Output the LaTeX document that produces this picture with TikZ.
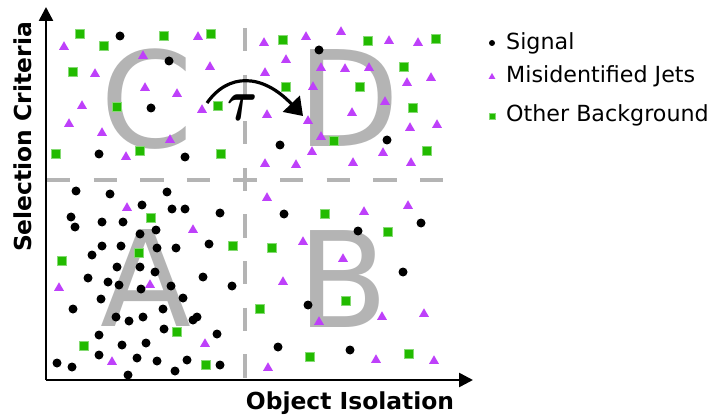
\documentclass[tikz,border=0pt]{standalone}
\usepackage{amsmath}
\usepackage{fontspec}
\setmainfont{DejaVu Sans}
\usepackage{tikz}
\usetikzlibrary{arrows.meta,shapes.geometric}

\definecolor{misid}{RGB}{190,64,250}
\definecolor{otherbg}{RGB}{34,187,0}
\definecolor{cutgray}{RGB}{180,180,180}

\tikzset{
  sig/.style={circle,fill=black,inner sep=0pt,minimum size=9pt},
  jet/.style={regular polygon,regular polygon sides=3,fill=misid,inner sep=0pt,minimum size=11.5pt},
  bkg/.style={rectangle,fill=otherbg,draw=otherbg!55,line width=0.8pt,inner sep=0pt,minimum size=8.5pt},
  region/.style={text=cutgray,font=\fontsize{133}{133}\selectfont,inner sep=0pt},
  cut/.style={cutgray,line width=4pt,dash pattern=on 23.3pt off 23.3pt},
  axis/.style={line width=2.5pt,-{Triangle[length=14pt,width=14pt]}},
  axlabel/.style={font=\fontsize{23.4}{24}\selectfont\bfseries,inner sep=0pt},
  keytext/.style={font=\fontsize{22.2}{24}\selectfont,anchor=base west,inner sep=0pt}
}

\begin{document}
\begin{tikzpicture}[x=1pt,y=-1pt]
\useasboundingbox (0,0) rectangle (710,417);

  \coordinate (O)     at (46,380);
  \coordinate (Ytop)  at (46,7);
  \coordinate (Xend)  at (473,380);
  \coordinate (VcutA) at (245,28);
  \coordinate (VcutB) at (245,378);
  \coordinate (HcutA) at (47,180);
  \coordinate (HcutB) at (445,180);

  \draw[cut] (VcutA) -- (VcutB);
  \draw[cut] (HcutA) -- (HcutB);

  \node[region] (C) at (147,99.5) {C};
  \node[region] (D) at (349,98.5) {D};
  \node[region] (A) at (146,278.5) {A};
  \node[region] (B) at (343,279) {B};

  \draw[axis] (O) -- (Ytop);
  \draw[axis] (O) -- (Xend);

  \node[axlabel,rotate=90] (ylab) at (23,137) {Selection Criteria};
  \node[axlabel] (xlab) at (350,403) {Object Isolation};

  % signal
  \foreach \px/\py [count=\i] in {120/36,169/61,151/108,99/154,185/157,
      319/50,280/145,387/140,
      76/191,110/194,167/192,142/205,172/209,185/209,220/213,71/217,75/227,
      102/222,123/222,140/234,156/230,102/246,121/246,92/255,157/248,176/248,
      209/244,117/267,140/267,155/272,88/278,108/282,119/285,141/289,171/286,
      203/277,232/286,101/299,183/298,73/309,163/309,116/317,129/321,143/317,
      197/317,193/320,164/329,99/335,217/334,122/345,146/343,99/355,137/358,
      157/361,187/360,57/363,72/367,175/371,128/375,220/365,
      284/214,421/223,358/231,403/272,308/305,278/347,350/350}
    \node[sig] (sig\i) at (\px,\py) {};

  % misidentified jets
  \foreach \px/\py [count=\i] in {64/47,198/37,143/56,210/67,95/74,145/88,
      177/94,202/110,82/106,69/124,102/133,170/140,126/157,
      264/43,306/37,341/32,389/41,418/43,286/60,265/73,321/68,345/69,369/68,
      407/83,431/78,313/87,385/102,267/115,352/113,308/121,410/128,437/125,
      321/137,312/152,383/153,265/164,296/165,353/163,411/163,
      127/208,193/230,59/288,150/285,205/344,112/362,
      267/198,408/206,364/212,303/242,343/259,283/282,382/317,424/314,
      319/322,376/360,434/361,268/368}
    \node[jet] (jet\i) at (\px,\py) {};

  % other background
  \foreach \px/\py [count=\i] in {80/34,104/46,164/36,211/34,73/72,117/107,
      218/106,56/154,140/151,221/154,
      283/40,368/41,436/39,404/67,286/87,360/87,413/108,334/141,427/151,
      151/218,139/253,233/246,62/261,177/332,84/346,206/365,
      325/214,388/232,272/248,260/309,346/301,310/357,409/354}
    \node[bkg] (bkg\i) at (\px,\py) {};

  \coordinate (tauFrom) at (207,103);
  \coordinate (tauTo)   at (303,116);
  \draw[line width=3.2pt,-{Triangle[length=17pt,width=23pt]}]
        (tauFrom) .. controls (228,73) and (262,73) .. (tauTo);
  \node[xscale=4.6,yscale=5.8] (tau) at (243,108) {$\boldsymbol{\tau}$};

  \node[sig,minimum size=6pt] (keySig) at (492,43) {};
  \node[jet,minimum size=8pt] (keyJet) at (492,77) {};
  \node[bkg,minimum size=6pt] (keyBkg) at (492,116) {};
  \node[keytext] (keySigText) at (506,50)  {Signal};
  \node[keytext] (keyJetText) at (506,83)  {Misidentified Jets};
  \node[keytext] (keyBkgText) at (506,122) {Other Background};

\end{tikzpicture}
\end{document}
